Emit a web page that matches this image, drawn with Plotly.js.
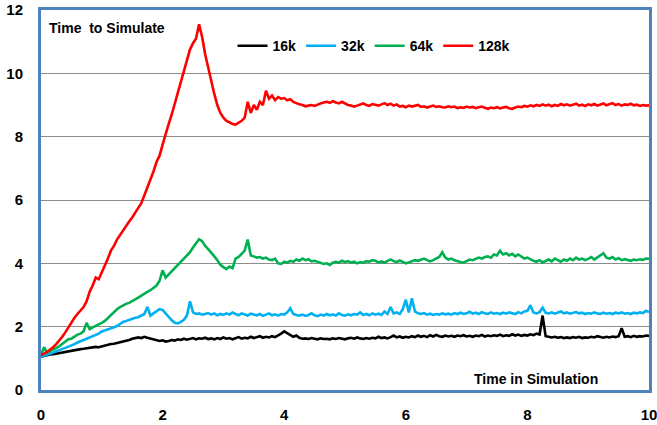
<!DOCTYPE html>
<html>
<head>
<meta charset="utf-8">
<script src="https://cdn.plot.ly/plotly-3.0.1.min.js"></script>
<style>html,body{margin:0;padding:0;background:#fff;}#chart{width:657px;height:425px;}</style>
</head>
<body>
<div id="chart"></div>
<script>
// sample spacing of the simulation time axis
var dt = 0.05;

var seriesNames = ["16k", "32k", "64k", "128k"];
var seriesColors = ["#000000", "#00B0F0", "#00B050", "#FF0000"];

var y16k = [
1.05,1.08,1.10,1.12,1.13,1.15,1.16,1.18,1.20,1.21,
1.24,1.25,1.27,1.29,1.30,1.32,1.33,1.35,1.36,1.35,
1.38,1.40,1.42,1.45,1.46,1.48,1.50,1.53,1.55,1.58,
1.62,1.63,1.66,1.64,1.68,1.65,1.62,1.60,1.57,1.55,
1.57,1.53,1.55,1.58,1.56,1.60,1.58,1.62,1.59,1.61,
1.64,1.60,1.63,1.62,1.65,1.61,1.63,1.60,1.64,1.61,
1.66,1.62,1.64,1.60,1.63,1.67,1.62,1.65,1.63,1.68,
1.64,1.66,1.70,1.65,1.68,1.66,1.70,1.67,1.72,1.78,
1.85,1.80,1.75,1.68,1.72,1.65,1.62,1.63,1.61,1.64,
1.62,1.60,1.63,1.61,1.62,1.60,1.63,1.61,1.64,1.62,
1.60,1.63,1.65,1.62,1.66,1.63,1.61,1.64,1.62,1.65,
1.63,1.68,1.64,1.66,1.63,1.67,1.72,1.66,1.69,1.65,
1.68,1.66,1.70,1.67,1.72,1.68,1.71,1.67,1.73,1.69,
1.74,1.70,1.68,1.72,1.69,1.71,1.68,1.72,1.70,1.73,
1.69,1.71,1.68,1.72,1.70,1.74,1.69,1.72,1.70,1.73,
1.71,1.75,1.70,1.73,1.71,1.76,1.72,1.75,1.71,1.74,
1.72,1.76,1.73,1.78,1.75,2.35,1.70,1.68,1.66,1.68,
1.65,1.67,1.64,1.66,1.64,1.67,1.65,1.68,1.64,1.66,
1.65,1.68,1.66,1.70,1.67,1.65,1.68,1.66,1.69,1.67,
1.70,1.95,1.68,1.70,1.67,1.71,1.68,1.70,1.69,1.72,
1.71];

var y32k = [
1.05,1.08,1.10,1.14,1.18,1.22,1.25,1.30,1.33,1.37,
1.40,1.45,1.50,1.55,1.58,1.62,1.66,1.70,1.74,1.78,
1.85,1.88,1.90,1.95,1.98,2.02,2.08,2.15,2.18,2.22,
2.25,2.28,2.30,2.35,2.40,2.62,2.35,2.42,2.48,2.55,
2.53,2.42,2.30,2.20,2.12,2.10,2.15,2.22,2.35,2.80,
2.45,2.40,2.42,2.38,2.40,2.43,2.38,2.42,2.36,2.40,
2.37,2.42,2.38,2.45,2.40,2.36,2.42,2.39,2.35,2.41,
2.38,2.36,2.40,2.34,2.38,2.42,2.36,2.39,2.35,2.40,
2.38,2.45,2.58,2.40,2.37,2.35,2.38,2.34,2.37,2.42,
2.36,2.33,2.38,2.35,2.40,2.36,2.39,2.35,2.42,2.37,
2.35,2.39,2.36,2.40,2.38,2.45,2.37,2.40,2.36,2.42,
2.38,2.41,2.37,2.48,2.40,2.62,2.42,2.45,2.40,2.55,
2.85,2.45,2.90,2.48,2.42,2.40,2.43,2.38,2.41,2.37,
2.40,2.38,2.42,2.39,2.41,2.38,2.43,2.40,2.44,2.40,
2.42,2.47,2.41,2.44,2.40,2.46,2.42,2.40,2.45,2.41,
2.43,2.40,2.44,2.41,2.45,2.42,2.40,2.46,2.42,2.48,
2.50,2.68,2.45,2.42,2.46,2.60,2.44,2.42,2.45,2.41,
2.44,2.48,2.42,2.45,2.41,2.43,2.46,2.42,2.44,2.40,
2.43,2.41,2.45,2.42,2.40,2.44,2.41,2.43,2.40,2.44,
2.42,2.45,2.41,2.43,2.40,2.44,2.42,2.45,2.43,2.50,
2.46];

var y64k = [
1.10,1.35,1.18,1.22,1.28,1.32,1.38,1.45,1.52,1.60,
1.62,1.70,1.75,1.78,1.85,2.12,1.92,1.98,2.02,2.08,
2.12,2.18,2.28,2.35,2.45,2.55,2.62,2.68,2.72,2.75,
2.80,2.85,2.92,2.98,3.05,3.10,3.15,3.22,3.30,3.45,
3.78,3.55,3.65,3.75,3.85,3.92,4.02,4.12,4.25,4.35,
4.50,4.62,4.76,4.70,4.55,4.45,4.35,4.22,4.10,3.95,
3.88,3.82,3.90,3.85,4.15,4.20,4.30,4.40,4.75,4.25,
4.22,4.18,4.20,4.15,4.18,4.12,4.10,4.15,4.00,3.98,
4.05,4.02,4.08,4.05,4.12,4.08,4.15,4.10,4.13,4.06,
4.08,4.05,4.02,3.98,4.00,3.95,4.02,4.05,4.02,4.08,
4.04,4.07,4.02,4.05,4.00,4.04,4.02,4.07,4.05,4.10,
4.08,4.03,4.06,4.02,4.08,4.12,4.07,4.04,4.09,4.05,
4.00,4.03,4.06,4.10,4.08,4.12,4.15,4.10,4.06,4.10,
4.14,4.20,4.35,4.18,4.12,4.15,4.10,4.06,4.04,4.02,
4.08,4.12,4.10,4.15,4.18,4.15,4.20,4.22,4.18,4.28,
4.25,4.40,4.28,4.32,4.25,4.30,4.22,4.28,4.20,4.15,
4.18,4.12,4.08,4.05,4.10,4.03,4.08,4.12,4.06,4.15,
4.10,4.05,4.12,4.08,4.15,4.10,4.18,4.12,4.15,4.10,
4.14,4.20,4.12,4.18,4.25,4.32,4.18,4.15,4.20,4.12,
4.16,4.10,4.13,4.10,4.08,4.12,4.10,4.13,4.11,4.15,
4.14];

var y128k = [
1.10,1.15,1.20,1.28,1.35,1.45,1.56,1.68,1.82,1.98,
2.12,2.28,2.40,2.52,2.62,2.80,3.10,3.30,3.55,3.50,
3.70,3.95,4.15,4.40,4.55,4.75,4.90,5.05,5.20,5.32,
5.45,5.58,5.75,5.90,6.15,6.40,6.60,6.90,7.20,7.40,
7.75,8.10,8.40,8.70,9.05,9.40,9.75,10.10,10.40,10.75,
10.95,11.10,11.55,11.15,10.60,10.15,9.75,9.35,9.00,8.75,
8.60,8.50,8.45,8.40,8.38,8.45,8.50,8.60,9.10,8.75,
9.00,8.85,9.10,9.00,9.45,9.20,9.30,9.15,9.25,9.20,
9.22,9.15,9.18,9.10,9.05,9.02,9.00,8.96,8.98,9.00,
8.97,9.02,9.05,9.08,9.10,9.07,9.12,9.08,9.05,9.10,
9.04,9.00,8.98,8.95,8.98,9.02,9.05,9.00,8.97,9.03,
9.00,8.98,9.02,9.06,9.00,9.04,8.98,9.02,8.95,8.97,
8.93,8.98,8.95,8.97,9.00,8.94,8.96,8.92,8.95,8.98,
8.94,8.96,8.93,8.92,8.96,8.93,8.95,8.90,8.93,8.91,
8.95,8.92,8.94,8.90,8.93,8.95,8.91,8.88,8.92,8.90,
8.93,8.89,8.92,8.94,8.90,8.88,8.92,8.95,8.93,8.97,
8.95,8.99,8.96,9.00,8.97,9.02,8.98,9.01,8.96,9.00,
8.97,9.03,8.99,9.02,8.98,9.00,9.04,8.98,9.01,8.97,
9.02,8.99,9.03,8.98,9.01,9.05,8.99,9.02,9.06,9.00,
9.03,8.98,9.02,9.00,9.04,8.99,9.01,8.97,9.00,8.98,
8.99];

var yTickVals = [0, 2, 4, 6, 8, 10, 12];
var xTickVals = [0, 2, 4, 6, 8, 10];
var yAxisLabel = "Time  to Simulate";
var xAxisLabel = "Time in Simulation";

var allY = [y16k, y32k, y64k, y128k];
var xs = [];
for (var i = 0; i < y16k.length; i++) xs.push(+(i * dt).toFixed(2));

var traces = allY.map(function (ys, k) {
  return {
    x: xs, y: ys, type: "scatter", mode: "lines", name: seriesNames[k],
    line: {color: seriesColors[k], width: 2.6}
  };
});

var fontFam = "Liberation Sans, Arial, sans-serif";
var layout = {
  width: 657, height: 425,
  margin: {l: 41, r: 8, t: 10, b: 35},
  paper_bgcolor: "#ffffff", plot_bgcolor: "#ffffff",
  showlegend: true,
  legend: {
    orientation: "h", x: 0.315, y: 0.905, xanchor: "left", yanchor: "middle",
    font: {family: fontFam, size: 14, color: "#000", weight: "bold"},
    itemwidth: 30, tracegroupgap: 0, bgcolor: "rgba(0,0,0,0)"
  },
  xaxis: {
    range: [0, 10], tickvals: xTickVals, showgrid: false, zeroline: false,
    showline: true, linecolor: "#4F81BD", linewidth: 3, mirror: true,
    ticks: "outside", ticklen: 9, tickcolor: "rgba(0,0,0,0)", ticklabeloverflow: "allow",
    tickfont: {family: fontFam, size: 15, color: "#000", weight: "bold"}
  },
  yaxis: {
    range: [0, 12], tickvals: yTickVals, showgrid: true, gridcolor: "#8c8c8c", gridwidth: 1,
    zeroline: false, showline: true, linecolor: "#4F81BD", linewidth: 3, mirror: true,
    ticks: "outside", ticklen: 12, tickcolor: "rgba(0,0,0,0)", ticklabeloverflow: "allow",
    tickfont: {family: fontFam, size: 15, color: "#000", weight: "bold"}
  },
  annotations: [
    {text: yAxisLabel, xref: "paper", yref: "paper", x: 0.01, y: 0.953, xanchor: "left", yanchor: "middle",
     showarrow: false, font: {family: fontFam, size: 14, color: "#000", weight: "bold"}},
    {text: xAxisLabel, xref: "paper", yref: "paper", x: 0.919, y: 0.029, xanchor: "right", yanchor: "middle",
     showarrow: false, font: {family: fontFam, size: 14, color: "#000", weight: "bold"}}
  ]
};

Plotly.newPlot("chart", traces, layout, {displayModeBar: false, staticPlot: true});
</script>
</body>
</html>
